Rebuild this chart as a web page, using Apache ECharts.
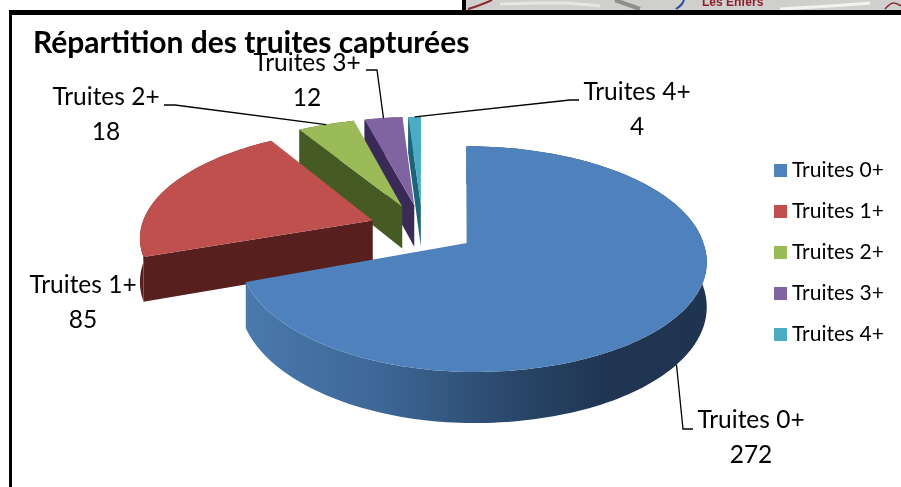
<!DOCTYPE html>
<html>
<head>
<meta charset="utf-8">
<title>Truites</title>
<style>
html, body { margin: 0; padding: 0; background: #fff; }
#chart1 { width: 901px; height: 487px; }
</style>
<script src="https://cdn.jsdelivr.net/npm/echarts@6/dist/echarts.min.js"></script>
</head>
<body>
<div id="chart1"></div>
<script>
// data
var categories = ['Truites 0+', 'Truites 1+', 'Truites 2+', 'Truites 3+', 'Truites 4+'];
var values = [272, 85, 18, 12, 4];

// colours: top face, side face
var topColors = ['#4f81bd', '#c0504d', '#9bbb59', '#8064a2', '#4bacc6'];
var sideColors = ['#2f5079', '#57201e', '#465a24', '#3a2a56', '#1c6478'];

// label centres and leader elbows
var labelPos = [[751, 420], [83, 285], [106, 97], [307, 63], [637, 92]];
var leaderEnds = [
	[[683, 429], [693, 429]],
	null,
	[[175, 105], [164, 105]],
	[[377, 70], [366, 70]],
	[[570, 100], [579, 100]]
];

// pie projection
var ORIGIN_X = 422.5, ORIGIN_Y = 228.6;
var RADIUS_X = 232, RADIUS_Y = 106.5;
var PERSP = 0.14, EXPLODE = 0.23, DEPTH = 43;
var LINE_HEIGHT = 35;

var total = 0;
for (var i = 0; i < values.length; i++) {
	total += values[i];
}

function project(wu, wv, down) {
	var s = 1 / (1 - PERSP * wv);
	return [ORIGIN_X + RADIUS_X * wu * s, ORIGIN_Y + RADIUS_Y * wv * s + (down ? DEPTH * s : 0)];
}

function sliceAngles(idx) {
	var before = 0;
	for (var i = 0; i < idx; i++) {
		before += values[i];
	}
	return [before / total * Math.PI * 2, (before + values[idx]) / total * Math.PI * 2];
}

function renderSlice(params, api) {
	var idx = params.seriesIndex;
	var ang = sliceAngles(idx);
	var mid = (ang[0] + ang[1]) / 2;
	var ox = EXPLODE * Math.sin(mid), ov = -EXPLODE * Math.cos(mid);
	var steps = Math.max(4, Math.ceil((ang[1] - ang[0]) * 40));
	var rimTop = [], rimBottom = [];
	for (var i = 0; i <= steps; i++) {
		var a = ang[0] + (ang[1] - ang[0]) * i / steps;
		var u = Math.sin(a), v = -Math.cos(a);
		// the big slice is a bit narrower on its left in the picture
		if (idx == 0) {
			if (u < 0) u *= 0.955;
			if (v < 0) u -= v * 0.024;
		}
		rimTop.push(project(ox + u, ov + v, false));
		rimBottom.push(project(ox + u, ov + v, true));
	}
	var apexTop = project(ox, ov, false), apexBottom = project(ox, ov, true);

	var rimFill = sideColors[idx];
	if (idx == 0) {
		rimFill = new echarts.graphic.LinearGradient(245, 0, 700, 0, [
			{offset: 0, color: '#4a79ae'},
			{offset: 0.3, color: '#3d6796'},
			{offset: 0.6, color: '#294668'},
			{offset: 0.8, color: '#1f3552'},
			{offset: 1, color: '#1f3450'}
		], true);
	}

	var children = [
		{type: 'polygon', shape: {points: [apexTop, rimTop[0], rimBottom[0], apexBottom]}, style: {fill: sideColors[idx]}},
		{type: 'polygon', shape: {points: rimTop.concat(rimBottom.slice().reverse())}, style: {fill: rimFill}},
		{type: 'polygon', shape: {points: [apexTop].concat(rimTop)}, style: {fill: topColors[idx]}}
	];

	// leader from the middle of the rim to the label
	if (leaderEnds[idx]) {
		var la = idx == 0 ? mid + 0.04 : mid;
		var start = project(ox + Math.sin(la), ov - Math.cos(la), idx == 0);
		children.push({
			type: 'polyline',
			z2: 10,
			shape: {points: [start].concat(leaderEnds[idx])},
			style: {stroke: '#000', lineWidth: 1.3, fill: null}
		});
	}
	var lbl = labelPos[idx];
	children.push({
		type: 'text',
		z2: 10,
		x: lbl[0],
		y: lbl[1],
		style: {
			text: categories[idx] + '\n' + api.value(0),
			fill: '#000',
			font: '24.5px Lato',
			align: 'center',
			verticalAlign: 'top',
			lineHeight: LINE_HEIGHT,
			y: -LINE_HEIGHT / 2
		}
	});
	return {type: 'group', children: children};
}

// back slices first
var paintOrder = [4, 3, 2, 1, 0];
var series = [];
for (var n = 0; n < categories.length; n++) {
	series.push({
		type: 'custom',
		name: categories[n],
		coordinateSystem: 'none',
		z: 2 + paintOrder.indexOf(n),
		silent: true,
		animation: false,
		itemStyle: {color: topColors[n]},
		renderItem: renderSlice,
		data: [[values[n]]]
	});
}

function mapLine(points, color, width) {
	return {type: 'polyline', shape: {points: points, smooth: 0.4}, style: {stroke: color, lineWidth: width, fill: null}};
}

var myChart = echarts.init(document.getElementById('chart1'), null, {renderer: 'canvas'});
myChart.setOption({
	backgroundColor: '#fff',
	animation: false,
	title: {
		text: 'Répartition des truites capturées',
		left: 28,
		top: 23,
		textStyle: {fontFamily: 'Lato', fontWeight: 'bold', fontSize: 30, color: '#000'}
	},
	legend: {
		orient: 'vertical',
		left: 769,
		top: 155,
		icon: 'rect',
		itemWidth: 13,
		itemHeight: 13,
		itemGap: 20,
		selectedMode: false,
		data: categories,
		textStyle: {fontFamily: 'Lato', fontSize: 21, color: '#000', lineHeight: 19}
	},
	graphic: [
		// corner of the map above the chart
		{type: 'rect', shape: {x: 466, y: 0, width: 435, height: 10}, style: {fill: '#cfcfcd'}},
		mapLine([[500, 4], [560, 3], [600, 6]], '#e6e6e4', 3),
		mapLine([[615, 0], [640, 9]], '#8e8e8c', 4),
		mapLine([[780, 9], [830, 6], [870, 3]], '#f2f2f0', 3),
		mapLine([[468, 9], [480, 5], [492, 0]], '#8c2a33', 2),
		mapLine([[676, 9], [681, 5], [684, 0]], '#2a4f9c', 2),
		mapLine([[885, 9], [893, 3], [901, 6]], '#8c2a33', 1.5),
		{type: 'text', x: 702, y: -3, style: {text: 'Les Enfers', fill: '#8c1f2b', font: 'bold 12px "Liberation Sans"'}},
		// frame
		{type: 'rect', shape: {x: 9, y: 10, width: 892, height: 5}, style: {fill: '#000'}},
		{type: 'rect', shape: {x: 9, y: 10, width: 3, height: 477}, style: {fill: '#000'}},
		{type: 'rect', shape: {x: 462, y: 0, width: 4, height: 10}, style: {fill: '#000'}}
	],
	series: series
});
</script>
</body>
</html>
